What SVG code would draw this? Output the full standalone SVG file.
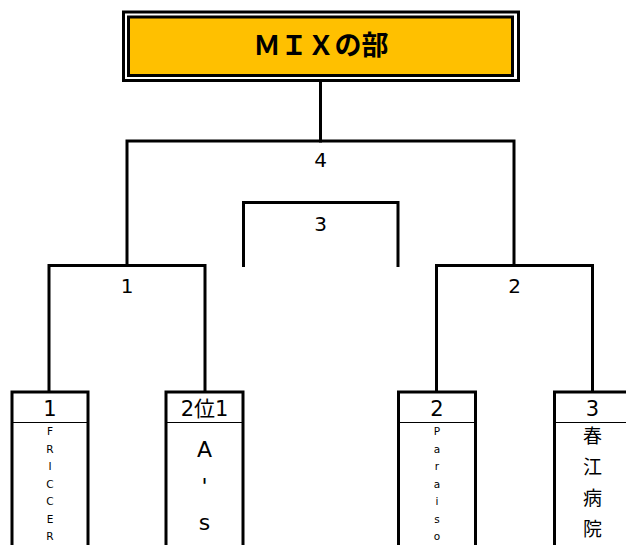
<svg xmlns="http://www.w3.org/2000/svg" width="626" height="545" viewBox="0 0 626 545">
  <style>
    .ln { fill: none; stroke: #000; stroke-width: 3; stroke-linejoin: miter; stroke-linecap: square; }
    .box { fill: #fff; stroke: #000; stroke-width: 3; }
    .div { stroke: #000; stroke-width: 1; }
    .num { font-family: "DejaVu Sans", "Noto Sans CJK JP", sans-serif; font-size: 20px; fill: #000; text-anchor: middle; }
    .hd { font-family: "DejaVu Sans", "Noto Sans CJK JP", sans-serif; font-size: 21px; fill: #000; text-anchor: middle; }
    .sm { font-family: "DejaVu Sans", sans-serif; font-size: 10.5px; fill: #000; text-anchor: middle; }
    .big { font-family: "DejaVu Sans", sans-serif; font-size: 22px; fill: #000; text-anchor: middle; }
    .cjk { font-family: "Noto Sans CJK JP", sans-serif; font-size: 19px; fill: #000; text-anchor: middle; }
    .title { font-family: "Noto Sans CJK JP", sans-serif; font-size: 27px; font-weight: bold; fill: #000; text-anchor: middle; }
  </style>
  <rect width="626" height="545" fill="#fff"/>

  <g id="connectors">
    <line class="ln" x1="320.5" y1="81" x2="320.5" y2="141"/>
    <polyline class="ln" points="127,265 127,141 514,141 514,265"/>
    <polyline class="ln" points="243.5,265.5 243.5,202.5 398,202.5 398,265.5"/>
    <polyline class="ln" points="49,392 49,265.5 205,265.5 205,392"/>
    <polyline class="ln" points="436.5,392 436.5,265.5 592.5,265.5 592.5,392"/>
  </g>

  <g id="title">
    <rect x="123.5" y="12" width="395" height="68.5" fill="#fff" stroke="#000" stroke-width="3"/>
    <rect x="128.5" y="17" width="384" height="58.5" fill="#FFC000" stroke="#000" stroke-width="3"/>
    <text class="title" x="321" y="55">ＭＩＸの部</text>
  </g>

  <g id="match-4"><text class="num" x="320.5" y="167">4</text></g>
  <g id="match-3"><text class="num" x="320.5" y="231">3</text></g>
  <g id="match-1"><text class="num" x="127" y="293">1</text></g>
  <g id="match-2"><text class="num" x="514.5" y="293">2</text></g>

  <g id="team-1">
    <rect class="box" x="12" y="392" width="76" height="170"/>
    <line class="div" x1="12" y1="422.5" x2="88" y2="422.5"/>
    <text class="hd" x="50" y="415.5">1</text>
    <text class="sm" x="50" y="435">F</text>
    <text class="sm" x="50" y="452.5">R</text>
    <text class="sm" x="50" y="470">I</text>
    <text class="sm" x="50" y="487.5">C</text>
    <text class="sm" x="50" y="505">C</text>
    <text class="sm" x="50" y="522.5">E</text>
    <text class="sm" x="50" y="540">R</text>
  </g>

  <g id="team-2i1">
    <rect class="box" x="166" y="392" width="77" height="170"/>
    <line class="div" x1="166" y1="422.5" x2="243" y2="422.5"/>
    <text class="hd" x="204.5" y="415.5">2位1</text>
    <text class="big" x="204.5" y="457">A</text>
    <text class="big" x="204.5" y="493.5">'</text>
    <text class="big" x="204.5" y="530">s</text>
  </g>

  <g id="team-2">
    <rect class="box" x="398.5" y="392" width="77" height="170"/>
    <line class="div" x1="398.5" y1="422.5" x2="475.5" y2="422.5"/>
    <text class="hd" x="437" y="415.5">2</text>
    <text class="sm" x="437" y="435">P</text>
    <text class="sm" x="437" y="452.5">a</text>
    <text class="sm" x="437" y="470">r</text>
    <text class="sm" x="437" y="487.5">a</text>
    <text class="sm" x="437" y="505">i</text>
    <text class="sm" x="437" y="522.5">s</text>
    <text class="sm" x="437" y="540">o</text>
  </g>

  <g id="team-3">
    <rect class="box" x="554.5" y="392" width="77" height="170"/>
    <line class="div" x1="554.5" y1="422.5" x2="631.5" y2="422.5"/>
    <text class="hd" x="592.5" y="415.5">3</text>
    <text class="cjk" x="592.5" y="443">春</text>
    <text class="cjk" x="592.5" y="474">江</text>
    <text class="cjk" x="592.5" y="505">病</text>
    <text class="cjk" x="592.5" y="536">院</text>
  </g>
</svg>
